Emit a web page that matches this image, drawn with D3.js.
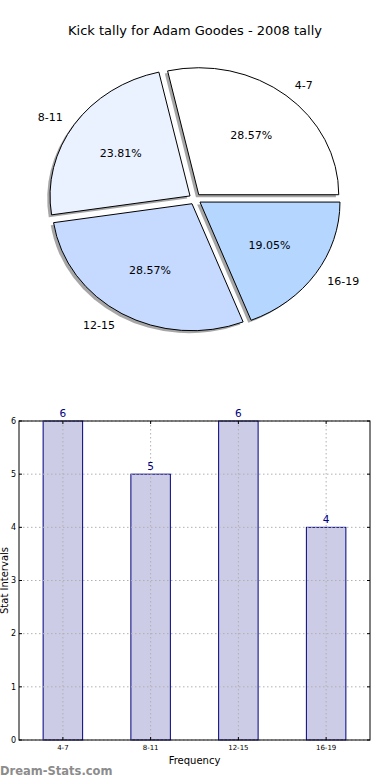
<!DOCTYPE html>
<html>
<head>
<meta charset="utf-8">
<script src="https://cdn.jsdelivr.net/npm/d3@7"></script>
<style>
body { margin: 0; background: #fff; }
svg { display: block; font-family: "DejaVu Sans", sans-serif; }
</style>
</head>
<body>
<div id="chart"></div>
<script>
var title = 'Kick tally for Adam Goodes - 2008 tally',
    categories = ['4-7', '8-11', '12-15', '16-19'],
    tally = [6, 5, 6, 4],
    sliceColors = ['#ffffff', '#eaf1ff', '#c6d9ff', '#b4d6ff'],
    yTicks = [0, 1, 2, 3, 4, 5, 6];

window.addEventListener('load', function() {
    var svg = d3.select('#chart').append('svg')
        .attr('width', 390).attr('height', 780);

    svg.append('text')
        .attr('x', 195).attr('y', 35)
        .attr('text-anchor', 'middle')
        .style('font-size', '13px')
        .text(title);

    drawPie(svg);
    drawBars(svg);

    svg.append('text')
        .attr('x', 0).attr('y', 775)
        .style('font-size', '11.5px')
        .style('font-weight', '600')
        .style('fill', '#8c8c8c')
        .text('Dream-Stats.com');
});

function drawPie(svg) {
    var cx = 195, cy = 199, rx = 140, ry = 127, explode = 0.043,
        total = d3.sum(tally),
        // matplotlib style: start at 3 o'clock, go counter-clockwise
        pie = d3.pie().sort(null).startAngle(Math.PI / 2).endAngle(Math.PI / 2 - 2 * Math.PI),
        arcs = pie(tally),
        arc = d3.arc().innerRadius(0).outerRadius(100);

    var shadows = svg.append('g');
    var wedges = svg.append('g');

    arcs.forEach(function(d, i) {
        var a = (d.startAngle + d.endAngle) / 2,
            sx = Math.sin(a), sy = -Math.cos(a),
            ox = explode * rx * sx,
            oy = explode * ry * sy;
        shadows.append('path')
            .attr('d', arc(d))
            .attr('transform', 'translate(' + (cx + ox - 2.8) + ',' + (cy + oy + 2.5) + ') scale(' + rx / 100 + ',' + ry / 100 + ')')
            .style('fill', '#4d4d4d')
            .style('opacity', 0.5);
        wedges.append('path')
            .attr('d', arc(d))
            .attr('transform', 'translate(' + (cx + ox) + ',' + (cy + oy) + ') scale(' + rx / 100 + ',' + ry / 100 + ')')
            .attr('vector-effect', 'non-scaling-stroke')
            .style('fill', sliceColors[i])
            .style('stroke', '#000')
            .style('stroke-width', 1)
            .style('stroke-linejoin', 'round');

        svg.append('text')
            .attr('x', cx + (explode + 1.1) * rx * sx)
            .attr('y', cy + (explode + 1.1) * ry * sy)
            .attr('dy', '0.35em')
            .attr('text-anchor', sx > 0 ? 'start' : 'end')
            .style('font-size', '11px')
            .text(categories[i]);
        svg.append('text')
            .attr('x', cx + (explode + 0.6) * rx * sx)
            .attr('y', cy + (explode + 0.6) * ry * sy)
            .attr('dy', '0.35em')
            .attr('text-anchor', 'middle')
            .style('font-size', '11px')
            .text((d.value / total * 100).toFixed(2) + '%');
    });
}

function drawBars(svg) {
    var left = 19, right = 370, top = 421, bottom = 740;
    var x = d3.scaleBand().domain(categories).range([left, right])
            .paddingInner(0.55).paddingOuter(0.275),
        y = d3.scaleLinear().domain([0, 6]).range([bottom, top]);

    var g = svg.append('g');

    g.selectAll('rect.bar').data(tally).enter().append('rect')
        .attr('class', 'bar')
        .attr('x', function(d, i) { return x(categories[i]); })
        .attr('y', function(d) { return y(d); })
        .attr('width', x.bandwidth())
        .attr('height', function(d) { return y(0) - y(d); })
        .style('fill', '#ccccE6')
        .style('stroke', '#000080')
        .style('stroke-width', 1);

    // dotted grid
    g.selectAll('line.hgrid').data(yTicks).enter().append('line')
        .attr('x1', left).attr('x2', right)
        .attr('y1', function(d) { return y(d); })
        .attr('y2', function(d) { return y(d); })
        .style('stroke', '#b0b0b0')
        .style('stroke-dasharray', '1.5,2.5');
    g.selectAll('line.vgrid').data(categories).enter().append('line')
        .attr('x1', function(d) { return x(d) + x.bandwidth() / 2; })
        .attr('x2', function(d) { return x(d) + x.bandwidth() / 2; })
        .attr('y1', top).attr('y2', bottom)
        .style('stroke', '#b0b0b0')
        .style('stroke-dasharray', '1.5,2.5');

    // frame
    g.append('rect')
        .attr('x', left).attr('y', top)
        .attr('width', right - left).attr('height', bottom - top)
        .style('fill', 'none').style('stroke', '#000').style('stroke-width', 1);

    // inward ticks
    yTicks.forEach(function(t) {
        g.append('line').attr('x1', left).attr('x2', left + 3)
            .attr('y1', y(t)).attr('y2', y(t)).style('stroke', '#000');
        g.append('line').attr('x1', right).attr('x2', right - 3)
            .attr('y1', y(t)).attr('y2', y(t)).style('stroke', '#000');
        g.append('text').attr('x', left - 3).attr('y', y(t))
            .attr('dy', '0.35em').attr('text-anchor', 'end')
            .style('font-size', '8px').text(t);
    });
    categories.forEach(function(c) {
        var cxm = x(c) + x.bandwidth() / 2;
        g.append('line').attr('x1', cxm).attr('x2', cxm)
            .attr('y1', bottom).attr('y2', bottom - 3).style('stroke', '#000');
        g.append('line').attr('x1', cxm).attr('x2', cxm)
            .attr('y1', top).attr('y2', top + 3).style('stroke', '#000');
        g.append('text').attr('x', cxm).attr('y', bottom + 8)
            .attr('dy', '0.35em').attr('text-anchor', 'middle')
            .style('font-size', '7px').text(c);
    });

    // value labels
    g.selectAll('text.val').data(tally).enter().append('text')
        .attr('x', function(d, i) { return x(categories[i]) + x.bandwidth() / 2; })
        .attr('y', function(d) { return y(d) - 4; })
        .attr('text-anchor', 'middle')
        .style('font-size', '10.5px')
        .style('fill', '#000080')
        .text(function(d) { return d; });

    g.append('text')
        .attr('x', (left + right) / 2).attr('y', 764)
        .attr('text-anchor', 'middle')
        .style('font-size', '10px')
        .text('Frequency');

    g.append('text')
        .attr('transform', 'translate(7.5,' + (top + bottom) / 2 + ') rotate(-90)')
        .attr('text-anchor', 'middle')
        .style('font-size', '10px')
        .text('Stat Intervals');
}
</script>
</body>
</html>
